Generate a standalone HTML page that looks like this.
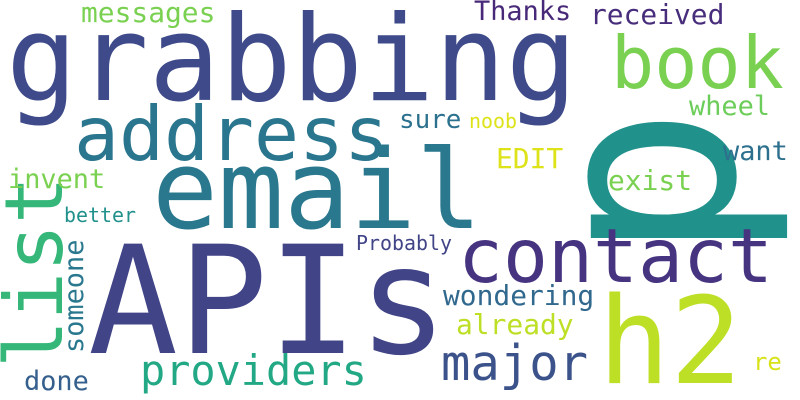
<!DOCTYPE html>
<html><head><meta charset="utf-8"><style>
html,body{margin:0;padding:0;background:#fff;}
svg{display:block;}
text{font-family:"DejaVu Sans Mono","Liberation Mono",monospace;}
</style></head><body>
<svg width="800" height="400" viewBox="0 0 800 400">
<rect width="800" height="400" fill="#fff"/>
<g id="words"></g>
</svg>
<script>
const words=["grabbing","address","email","APIs","p","contact","h2","list","providers","major","book","messages","invent","Thanks","received","wheel","sure","noob","EDIT","want","exist","better","Probably","wondering","already","re","done","someone"];
const sizes=[119,75,110,150,260,75,120,80,42,49,72,28,27,27,28,27,26,20,28,27,28,20,20,28,28,24,27,27];
const xs=[6,74,152,88,733,458,598,62,140,441,611,81,8,474,590,689,399,469,496,723,608,64,356,443,456,753,24,83];
const ys=[100,160,228,353,262,282,383,368,385,380,88,22,188,20,24,115,128,128,168,160,190,222,250,305,334,370,390,353];
const rot=[0,0,0,0,1,0,0,1,0,0,0,0,0,0,0,0,0,0,0,0,0,0,0,0,0,0,0,1];
const colors=["#3e4a89","#2a768e","#2a788e","#414487","#21918c","#463480","#bddf26","#35b779","#22a884","#3b528b","#7ad151","#7ad151","#7ad151","#482878","#472d7b","#6ccd5a","#2c728e","#dde318","#dde318","#2d708e","#7ad151","#21918c","#414487","#31688e","#bddf26","#d8e219","#355f8d","#2a788e"];
const g=document.getElementById('words');
const NS="http://www.w3.org/2000/svg";
for(let i=0;i<words.length;i++){
  const t=document.createElementNS(NS,'text');
  
  
  t.setAttribute('font-size',sizes[i]);
  t.setAttribute('fill',colors[i]);
  t.setAttribute('textLength',(words[i].length*0.6*sizes[i]).toFixed(1));
  t.setAttribute('lengthAdjust','spacingAndGlyphs');
  if(rot[i]){
    t.setAttribute('transform','translate('+xs[i]+','+ys[i]+') rotate(-90)');
    t.setAttribute('x',0);t.setAttribute('y',0);
  }else{
    t.setAttribute('x',xs[i]);t.setAttribute('y',ys[i]);
  }
  t.textContent=words[i];
  g.appendChild(t);
}
</script>
</body></html>
